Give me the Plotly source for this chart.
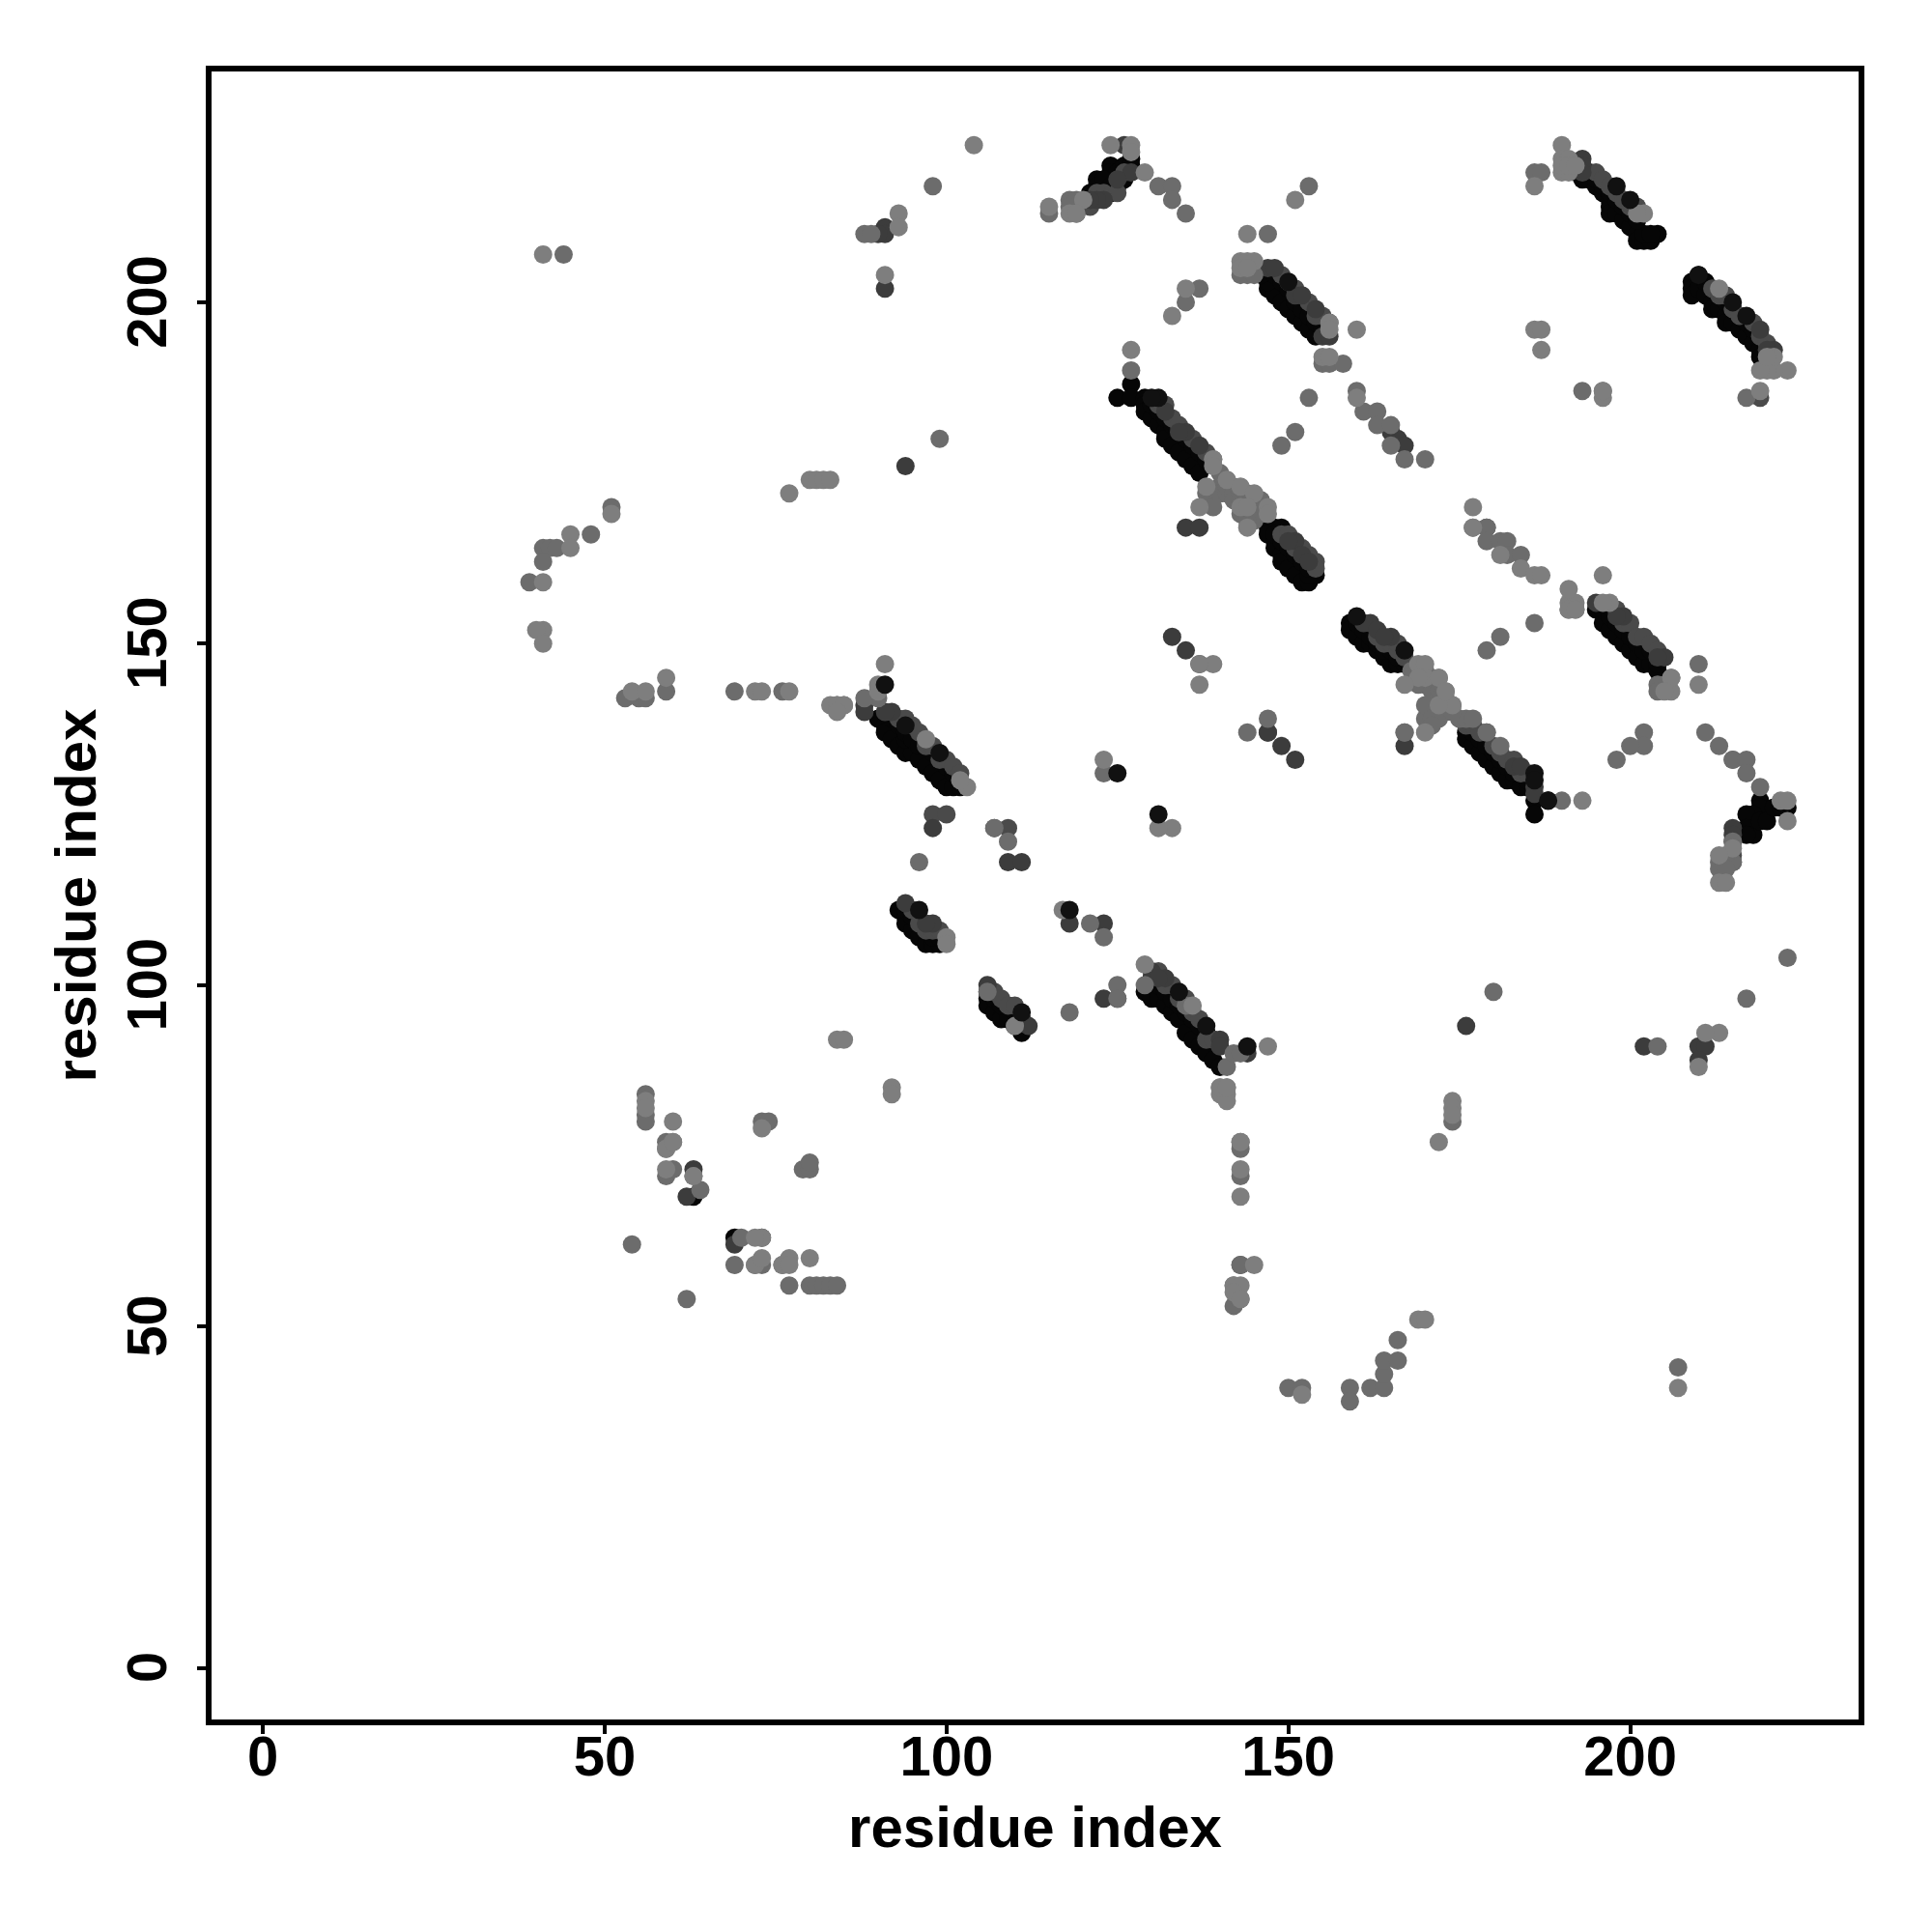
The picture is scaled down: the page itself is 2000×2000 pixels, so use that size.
import plotly.graph_objects as go

tick_values = [0, 50, 100, 150, 200]
axis_label = "residue index"

# contacts drawn darkest first as (residue, residue)
black_x = [124,124,125,125,122,122,123,126,127,127,125,124,123,124,126,122,121,
           147,148,149,150,151,152,153,154,147,146,
           148,149,150,151,152,153,154,155,
           127,125,127,129,129,129,130,131,132,132,133,134,135,136,137,
           130,131,132,133,134,135,136,137,138,
           147,148,149,147,148,148,149,149,150,151,152,153,154,153,
           148,149,150,151,152,153,
           159,159,160,161,162,163,164,165,166,167,
           160,161,162,163,164,165,166,
           176,176,177,178,179,180,181,182,183,184,185,186,186,188,
           177,178,179,180,181,182,183,184,185,
           195,196,197,198,199,200,201,202,203,204,
           196,197,198,199,200,201,202,203,204,
           192,193,194,195,196,197,197,197,198,199,200,201,201,202,203,204,202,203,
           194,195,196,197,198,199,200,201,
           209,209,209,210,210,210,211,212,212,213,214,214,215,216,217,218,219,219,
           211,212,213,214,215,216,217,218,
           90,91,91,92,93,94,95,96,97,98,99,100,101,102,94,94,95,
           92,93,94,95,96,97,98,99,100,101,
           93,94,94,95,96,97,98,99,
           94,95,96,97,98,99,
           106,106,107,108,109,110,111,106,
           107,108,109,110,111,
           129,130,131,132,133,134,135,136,137,138,139,140,
           130,131,132,133,134,135,136,137,138,139,
           219,219,218,217,217,218,217,219,220,223,221,222,
           63,69]
black_y = [220,219,219,217,218,217,216,220,221,220,218,216,218,217,218,216,216,
           202,201,200,199,198,197,196,195,203,204,
           204,203,202,200,199,198,197,196,
           188,186,186,186,185,184,183,182,181,180,179,178,177,176,175,
           185,184,183,182,181,180,179,178,177,
           167,167,167,166,165,164,163,162,161,160,159,159,160,160,
           166,165,164,163,162,161,
           153,152,151,150,150,149,148,147,147,147,
           153,152,151,150,149,149,148,
           137,136,135,134,133,132,131,130,130,129,129,127,125,127,
           137,136,135,134,133,132,131,131,130,
           155,153,152,151,150,149,148,147,147,146,
           155,154,153,152,151,150,149,149,147,
           219,218,218,217,216,215,214,213,213,212,211,210,209,209,209,210,210,210,
           219,218,217,216,215,214,213,212,
           203,202,201,204,203,202,201,200,199,199,198,197,197,196,195,194,193,192,
           203,202,201,200,199,198,197,196,
           139,138,137,136,135,134,134,133,132,131,130,129,129,129,137,136,136,
           139,138,137,136,135,135,134,133,132,131,
           111,110,109,108,107,106,106,106,
           111,110,109,108,107,107,
           98,97,96,95,95,94,93,99,
           98,97,97,96,95,
           99,98,98,97,96,95,93,92,91,90,89,88,
           101,100,99,98,97,96,95,94,93,92,
           127,126,125,125,123,122,122,124,124,126,126,126,
           69,63]

slate_x = [149,150,151,153,155,154,156,
           131,132,133,134,136,138,
           149,150,151,152,153,154,154,
           163,164,165,166,167,166,
           176,177,178,179,180,181,182,183,184,185,
           198,199,200,201,202,203,204,
           195,196,197,198,199,200,201,
           212,213,214,215,216,218,219,220,
           93,94,95,96,97,98,99,100,101,102,
           95,96,97,98,99,
           107,108,109,110,111,
           131,132,133,134,135,136,137,138,139,
           98,100,107,109,143,147,137,219,215,215,
           123,125,126,121,122]
slate_y = [204,203,202,200,198,198,197,
           185,185,183,182,180,178,
           166,166,164,164,163,162,161,
           151,150,150,149,148,150,
           138,138,137,137,135,134,133,133,131,131,
           155,153,153,151,151,150,149,
           219,218,217,216,215,214,214,
           202,201,201,199,198,197,195,194,
           139,139,138,137,135,135,133,133,132,131,
           111,109,108,108,108,
           99,98,97,97,95,
           102,100,100,98,98,96,95,92,92,
           125,125,123,123,59,137,147,186,121,119,
           216,216,219,214,216]

dark_x = [127,123,122,121,119,119,126,125,
          91,91,90,91,94,
          145,147,148,151,152,154,155,156,
          132,135,134,137,
          165,166,179,167,135,137,
          151,150,152,153,
          133,135,147,149,151,
          162,161,163,165,164,167,
          183,184,186,186,
          195,199,198,205,204,
          193,193,193,219,221,220,
          88,88,92,91,
          98,109,111,118,123,176,202,210,211,210,
          94,98,97,106,112,
          130,132,131,140,140,144,
          215,215,215,214,
          62,63,69,73,125,123]
dark_y = [219,215,215,215,214,213,223,218,
          211,210,210,202,176,
          205,205,205,201,201,199,195,195,
          184,181,181,179,
          181,180,167,179,167,167,
          165,165,163,162,
          151,149,137,135,133,
          153,153,152,151,151,135,
          132,132,129,128,
          156,154,154,148,148,
          221,220,219,196,193,193,
          141,140,140,140,
          123,118,118,109,109,94,91,91,91,89,
          112,109,109,100,94,
          102,101,101,92,91,90,
          123,122,118,118,
          69,73,62,63,98,98]

mid_x = [44,88,89,98,99,48,51,41,42,43,41,39,
         118,119,118,115,131,133,133,135,147,153,137,135,
         127,153,151,149,160,161,163,163,165,165,167,170,
         155,156,158,143,144,145,186,187,
         139,138,140,142,144,139,140,141,143,144,145,146,
         140,141,141,142,142,143,143,144,145,146,146,145,144,
         170,169,172,173,174,167,172,170,175,176,177,179,181,
         168,169,170,171,171,171,172,172,173,173,173,174,171,170,171,171,
         206,205,204,192,191,
         177,179,179,181,182,182,184,
         193,196,181,179,186,217,215,210,
         202,202,200,198,211,213,215,217,217,219,
         217,223,180,190,215,214,213,215,213,214,
         90,84,85,88,
         96,107,109,123,121,123,118,125,125,
         106,129,135,141,
         143,143,143,143,142,142,143,
         174,166,150,152,159,159,162,164,164,164,166,207,
         53,55,56,59,69,76,
         56,56,56,59,59,60,63,64,54,62,73,74,79,80,80,
         69,70,72,73,76,80,81,82,83,84,77,
         142,143,144,204,147,167,204]
mid_y = [207,210,210,217,180,166,170,164,164,164,162,159,
         215,215,214,213,217,217,215,213,210,217,202,200,
         190,186,181,179,187,184,184,182,182,179,177,177,
         191,191,191,204,204,204,219,219,
         177,172,173,173,172,170,172,172,169,169,170,171,
         175,174,173,172,171,172,171,171,171,170,169,168,168,
         144,144,145,143,141,137,139,139,139,139,139,137,135,
         146,146,146,145,144,143,143,142,142,141,140,140,141,141,139,138,
         145,144,144,155,155,
         167,167,165,165,165,163,163,
         187,187,151,149,153,186,133,147,
         137,135,135,133,137,135,133,133,131,129,
         98,104,99,127,118,119,118,121,117,117,
         142,141,141,142,
         118,123,121,131,109,107,96,100,98,
         99,100,97,88,
         59,76,77,72,56,53,54,
         80,48,41,41,41,39,41,41,43,45,45,44,
         142,142,142,143,143,143,
         84,81,80,77,72,73,72,70,62,54,80,80,73,73,74,
         59,63,59,59,59,56,56,56,56,56,56,
         90,90,137,143,139,137,91]

light_x = [41,93,93,91,80,81,82,83,77,51,45,45,41,41,40,41,
           104,124,127,127,129,115,120,151,144,135,133,127,118,119,
           143,144,145,143,144,156,156,155,156,160,160,
           139,139,141,143,145,147,147,138,137,143,144,144,
           169,170,170,169,167,172,174,172,173,170,
           191,192,191,192,190,190,191,190,191,190,191,192,197,196,196,191,
           202,201,213,223,221,220,219,221,220,219,186,187,187,186,
           196,196,210,206,206,205,
           177,177,181,184,186,187,
           222,223,223,215,213,213,214,
           193,90,90,83,84,85,84,91,
           103,102,97,133,131,100,100,117,123,
           84,85,110,129,136,92,92,
           140,141,140,141,141,143,143,145,142,143,142,143,143,152,207,
           174,174,174,172,169,170,147,213,211,
           54,56,59,72,73,77,
           56,56,60,60,59,59,60,59,63,73,72,73,73,76,77,77,
           72,80,
           137,139,137,140,141,210]
light_y = [207,213,211,204,174,174,174,174,172,169,166,164,159,152,152,150,
           223,223,223,222,219,214,215,215,210,202,198,193,213,213,
           206,206,206,205,205,197,196,192,192,196,186,
           177,176,174,173,172,170,169,173,170,170,170,167,
           147,147,145,145,144,145,141,141,143,137,
           156,156,155,155,223,221,221,219,219,220,220,220,156,156,160,158,
           213,213,202,190,190,190,190,192,192,187,196,196,193,217,
           186,187,144,143,145,143,
           170,167,163,161,160,160,
           127,127,124,120,115,119,115,
           127,144,143,141,141,141,140,147,
           129,130,136,123,123,107,106,111,133,
           92,92,94,103,97,85,84,
           85,85,84,84,83,77,73,59,56,56,55,54,69,40,41,
           83,82,81,77,51,51,91,93,93,
           143,143,145,143,143,143,
           83,82,80,77,76,76,77,73,72,79,59,60,63,59,60,59,
           63,60,
           144,147,147,85,85,88]

top_x = [91,125,131,144,138,134,111,96,118,167,160,186,131,130,150,200,198,215,217,210,99,94,188,186]
top_y = [144,131,125,91,94,99,96,111,111,149,154,131,186,186,203,215,217,200,198,204,134,138,127,130]

groups = [(black_x, black_y, "#060606"), (slate_x, slate_y, "#4a4a4a"), (dark_x, dark_y, "#3c3c3c"),
          (mid_x, mid_y, "#6c6c6c"), (light_x, light_y, "#7e7e7e"), (top_x, top_y, "#111111")]

fig = go.Figure()
for gx, gy, shade in groups:
    assert len(gx) == len(gy), (shade, len(gx), len(gy))
    fig.add_trace(go.Scatter(x=gx, y=gy, mode="markers", showlegend=False,
                             marker=dict(size=19, color=shade, line=dict(width=0))))

font = dict(family="Liberation Sans", size=58, color="black", weight="bold")
title_font = dict(family="Liberation Sans", size=60, color="black", weight="bold")
axis = dict(tickmode="array", tickvals=tick_values,
            ticks="outside", ticklen=9, tickwidth=3.5, tickcolor="black",
            showline=True, mirror=True, linewidth=6, linecolor="black",
            showgrid=False, zeroline=False, tickfont=font)

fig.update_layout(width=2000, height=2000, autosize=False,
                  paper_bgcolor="white", plot_bgcolor="white",
                  margin=dict(l=211, r=83.5, t=66, b=227.5, pad=0),
                  xaxis=dict(range=[-7.49, 233.4], ticklabelstandoff=-27,
                             ticktext=[str(v) for v in tick_values],
                             title=dict(text=axis_label, font=title_font, standoff=23), **axis),
                  yaxis=dict(range=[-7.57, 233.8], tickangle=-90, ticklabelstandoff=9,
                             ticktext=[str(v) + "\u00a0" for v in tick_values],
                             title=dict(text=axis_label, font=title_font, standoff=2), **axis))
fig.write_html("out.html")
